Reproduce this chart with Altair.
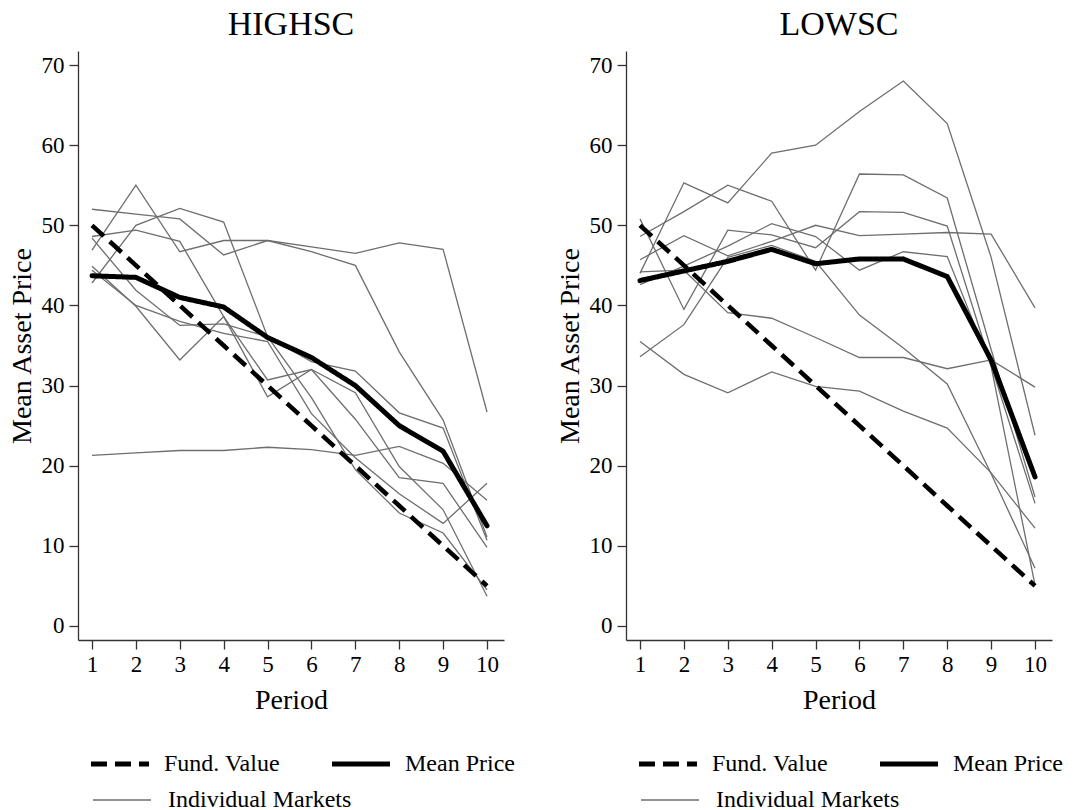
import altair as alt
import pandas as pd

periods = list(range(1, 11))
fund_value = [50, 45, 40, 35, 30, 25, 20, 15, 10, 5]

# HIGHSC
high_mean = [43.7, 43.5, 41.0, 39.8, 36.0, 33.5, 30.0, 25.0, 21.8, 12.5]
high_m1 = [52.0, 51.4, 50.8, 46.3, 48.1, 47.3, 46.5, 47.8, 47.0, 26.7]
high_m2 = [42.8, 50.0, 52.1, 50.4, 36.1, 28.5, 19.5, 14.1, 11.6, 4.5]
high_m3 = [48.6, 49.4, 48.0, 38.6, 30.7, 32.0, 25.8, 18.5, 17.8, 9.8]
high_m4 = [46.9, 55.0, 46.7, 48.1, 48.1, 46.7, 45.0, 34.2, 25.7, 11.1]
high_m5 = [48.4, 41.9, 37.5, 37.7, 36.1, 33.0, 31.8, 26.6, 24.7, 10.7]
high_m6 = [44.9, 39.9, 33.2, 38.6, 28.6, 32.0, 29.1, 19.9, 14.5, 3.7]
high_m7 = [44.4, 40.0, 38.0, 36.5, 35.5, 26.5, 21.0, 16.5, 12.8, 17.8]
high_m8 = [21.3, 21.6, 21.9, 21.9, 22.3, 22.0, 21.3, 22.4, 20.3, 15.7]

# LOWSC
low_mean = [43.1, 44.3, 45.5, 47.0, 45.2, 45.8, 45.8, 43.6, 33.2, 18.6]
low_m1 = [44.0, 55.3, 52.8, 59.0, 60.0, 64.2, 68.0, 62.7, 46.0, 23.8]
low_m2 = [48.6, 51.7, 55.0, 53.0, 44.4, 56.4, 56.3, 53.4, 34.5, 16.1]
low_m3 = [45.7, 48.7, 46.2, 48.0, 50.0, 48.7, 48.9, 49.1, 48.9, 39.7]
low_m4 = [50.8, 39.5, 49.4, 48.8, 47.2, 51.7, 51.6, 49.9, 32.5, 15.3]
low_m5 = [42.6, 44.9, 47.4, 50.2, 48.6, 44.4, 46.7, 46.1, 32.4, 5.1]
low_m6 = [33.6, 37.6, 46.0, 47.5, 45.5, 38.8, 34.7, 30.2, 19.0, 7.2]
low_m7 = [35.5, 31.4, 29.1, 31.7, 29.9, 29.3, 26.8, 24.7, 19.1, 12.2]
low_m8 = [44.2, 44.4, 39.1, 38.4, 36.0, 33.5, 33.5, 32.1, 33.2, 29.8]

panels = ["HIGHSC", "LOWSC"]
main_series = ["Fund. Value", "Mean Price"]
indiv_series = ["Individual Markets"]

high_markets = [high_m1, high_m2, high_m3, high_m4, high_m5, high_m6, high_m7, high_m8]
low_markets = [low_m1, low_m2, low_m3, low_m4, low_m5, low_m6, low_m7, low_m8]

rows = []
for panel, means, markets in [("HIGHSC", high_mean, high_markets), ("LOWSC", low_mean, low_markets)]:
    for p, v in zip(periods, fund_value):
        rows.append(dict(panel=panel, series="Fund. Value", group="", market="fund", period=p, value=v))
    for p, v in zip(periods, means):
        rows.append(dict(panel=panel, series="Mean Price", group="", market="mean", period=p, value=v))
    for i, m in enumerate(markets):
        for p, v in zip(periods, m):
            rows.append(dict(panel=panel, series="", group="Individual Markets",
                             market=f"m{i+1}", period=p, value=v))
df = pd.DataFrame(rows)

FONT = "Liberation Serif"
GRAY = "#6e6e6e"
LINE_SYMBOL = "M-3.87,0H3.87"


def make_panel(name):
    legend_main = alt.Legend(
        title=None, orient="none", legendX=30, legendY=701, columns=2, gridAlign="none",
        symbolType=LINE_SYMBOL, symbolSize=225, symbolStrokeWidth=5,
        labelFont=FONT, labelFontSize=24, labelColor="black", labelOffset=32,
        columnPadding=41, rowPadding=0, labelLimit=400,
    )
    legend_indiv = alt.Legend(
        title=None, orient="none", legendX=32, legendY=737,
        symbolType=LINE_SYMBOL, symbolSize=225, symbolStrokeWidth=1.4, symbolStrokeColor=GRAY,
        labelFont=FONT, labelFontSize=24, labelColor="black", labelOffset=34, labelLimit=400,
    )
    x = alt.X("period:Q",
              scale=alt.Scale(domain=[0.681, 10.387], nice=False, zero=False),
              axis=alt.Axis(values=periods, format="d", title="Period", labelFlush=False,
                            labelOverlap=False, labelPadding=4, titlePadding=10))
    y = alt.Y("value:Q",
              scale=alt.Scale(domain=[-1.75, 71.75], nice=False, zero=False),
              axis=alt.Axis(values=[0, 10, 20, 30, 40, 50, 60, 70], format="d",
                            title="Mean Asset Price", labelFlush=False, labelOverlap=False,
                            labelPadding=5, titleX=-56, titleBaseline="middle"))
    color = alt.Color("series:N", scale=alt.Scale(domain=main_series, range=["black", "black"]),
                      legend=legend_main)
    dash = alt.StrokeDash("series:N", scale=alt.Scale(domain=main_series, range=[[16, 8], [1, 0]]),
                          legend=legend_main)
    opac = alt.Opacity("group:N", scale=alt.Scale(domain=indiv_series, range=[1]),
                       legend=legend_indiv)
    base = alt.Chart(df).transform_filter(alt.datum.panel == name)
    indiv = base.transform_filter(alt.datum.group == "Individual Markets").mark_line(
        strokeWidth=1.3, color=GRAY).encode(x=x, y=y, detail="market:N", opacity=opac)
    fund = base.transform_filter(alt.datum.series == "Fund. Value").mark_line(
        strokeWidth=4.5, strokeCap="butt").encode(x=x, y=y, color=color, strokeDash=dash)
    mean = base.transform_filter(alt.datum.series == "Mean Price").mark_line(
        strokeWidth=5, strokeCap="round", strokeJoin="round").encode(x=x, y=y, color=color, strokeDash=dash)
    return alt.layer(indiv, fund, mean).properties(
        width=426, height=589,
        title=alt.TitleParams(name, font=FONT, fontSize=34, fontWeight="normal", color="black",
                              anchor="middle", baseline="alphabetic", offset=-18),
    )


chart = alt.hconcat(make_panel("HIGHSC"), make_panel("LOWSC"), spacing=41).resolve_scale(
    color="independent", strokeDash="independent", opacity="independent"
).resolve_legend(color="independent", strokeDash="independent", opacity="independent").configure_view(
    stroke=None
).configure_axis(
    grid=False, domainColor="#333333", tickColor="#333333", domainWidth=1.3, tickWidth=1.3,
    tickSize=9, labelFont=FONT, labelFontSize=23, labelColor="black",
    titleFont=FONT, titleFontSize=28, titleFontWeight="normal", titleColor="black",
).properties(padding=0, background="white")

chart.save("out.html", embed_options={"renderer": "svg", "actions": False})
